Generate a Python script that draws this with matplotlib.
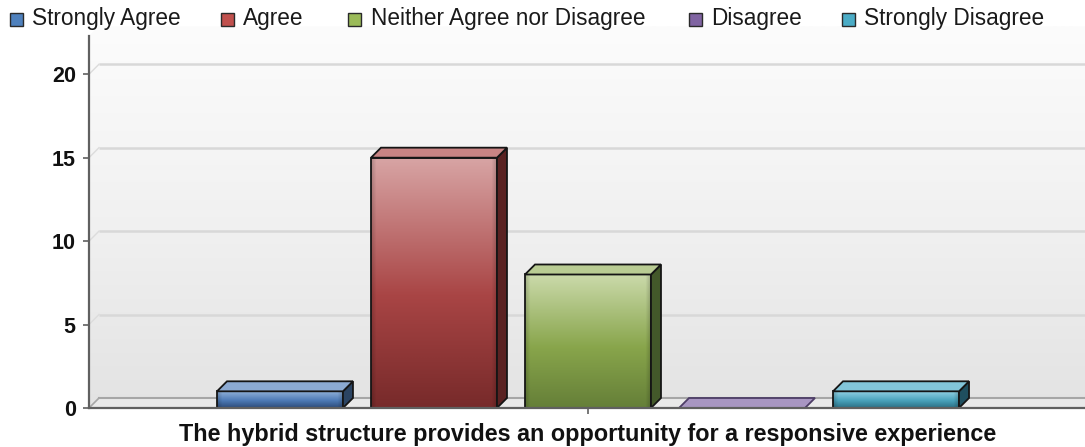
import numpy as np
import matplotlib
matplotlib.use("Agg")
import matplotlib.pyplot as plt
from matplotlib.patches import Polygon, Rectangle
from matplotlib.colors import to_rgb

# ---- data -------------------------------------------------------------
categories = ["The hybrid structure provides an opportunity for a responsive experience"]
series = ["Strongly Agree", "Agree", "Neither Agree nor Disagree", "Disagree", "Strongly Disagree"]
values = [1, 15, 8, 0, 1]
y_ticks = [0, 5, 10, 15, 20]

# ---- styling ----------------------------------------------------------
legend_colors = ["#4f81bd", "#c0504d", "#9bbb59", "#8064a2", "#4bacc6"]
# front gradient (top, middle, bottom), top face, side face, outline
bar_styles = [
    ("#92b2da", "#4e7bb6", "#2c4a78", "#8caad2", "#2b4463", "#151515"),
    ("#d8a5a5", "#a94545", "#772a2a", "#c98484", "#5a2222", "#151515"),
    ("#cbdaab", "#88a54b", "#657f38", "#b9cc93", "#43582a", "#151515"),
    ("#b8a8d0", "#8a72ad", "#5d4a7c", "#a896c2", "#4b3b62", "#4d3d66"),
    ("#93d2e4", "#4aa3bc", "#2a6f84", "#82c5d9", "#1f4f5f", "#151515"),
]

plt.rcParams["font.family"] = ["Liberation Sans", "DejaVu Sans"]

W, H, DPI = 1085, 447, 100
fig = plt.figure(figsize=(W / DPI, H / DPI), dpi=DPI)
fig.patch.set_facecolor("white")

# plot box (pixels): front axis at left/bottom, back wall reaches top/right
ax_l, ax_r, ax_t, ax_b = 89, 1097, 26, 408
ax = fig.add_axes([ax_l / W, (H - ax_b) / H, (ax_r - ax_l) / W, (ax_b - ax_t) / H])
ax.set_autoscale_on(False)
ax.patch.set_visible(False)

x0, x1 = -3.24, 3.305
y0, y1 = 0.0, 22.89
ax.set_xlim(x0, x1)
ax.set_ylim(y0, y1)

# depth of the 3D effect, converted from pixels to data units
depth_px = 10
dxd = depth_px * (x1 - x0) / (ax_r - ax_l)
dyd = depth_px * (y1 - y0) / (ax_b - ax_t)
y_front_top = y1 - dyd
bar_w = 0.818
slot = 1.0


def vgrad(colors, stops, n=256):
    """Vertical gradient image (top row first) through the given colours."""
    t = np.linspace(0, 1, n)
    cols = np.array([to_rgb(c) for c in colors])
    img = np.stack([np.interp(t, stops, cols[:, k]) for k in range(3)], axis=-1)
    return img[:, None, :]


# ---- back wall and left wall --------------------------------------------
wall_img = vgrad(["#fcfcfc", "#f1f1f1", "#e3e3e3"], [0, 0.5, 1])
wall = ax.imshow(wall_img, extent=[x0, x1, y0, y1], aspect="auto",
                 interpolation="bilinear", zorder=0)
wall_clip = Polygon([(x0, 0), (x0, y_front_top), (x0 + dxd, y1), (x1, y1), (x1, 0)],
                    closed=True, transform=ax.transData)
wall.set_clip_path(wall_clip)

# gridlines on the back wall, with their short diagonals on the left wall
for t in y_ticks[1:]:
    ax.plot([x0 + dxd, x1], [t + dyd, t + dyd], color="#d8d8d8", lw=1.8, zorder=1,
            solid_capstyle="butt")
    ax.plot([x0, x0 + dxd], [t, t + dyd], color="#dcdcdc", lw=1.0, zorder=1)

# floor
floor = Polygon([(x0, 0), (x1, 0), (x1, dyd), (x0 + dxd, dyd)], closed=True,
                facecolor="#e9e9e9", edgecolor="none", zorder=1)
ax.add_patch(floor)
ax.plot([x0 + dxd, x1], [dyd, dyd], color="#a6a6a6", lw=1.5, zorder=1.5)
ax.plot([x0, x0 + dxd], [0, dyd], color="#a6a6a6", lw=1.2, zorder=1.5)

# ---- bars -------------------------------------------------------------
n = len(series)
for i, (v, st) in enumerate(zip(values, bar_styles)):
    c_top, c_mid, c_bot, c_face, c_side, c_edge = st
    xc = 0 + (i - (n - 1) / 2) * slot
    xl, xr = xc - bar_w / 2, xc + bar_w / 2
    if v > 0:
        img = vgrad([c_top, c_mid, c_bot], [0, 0.55, 1])
        # slight darkening toward the left and right edges of the front face
        u = np.linspace(0, 1, 128)
        d = np.minimum(u, 1 - u)
        shade = 1 - 0.18 * np.clip(1 - d / 0.04, 0, 1)
        img2 = img * shade[None, :, None]
        ax.imshow(img2, extent=[xl, xr, 0, v], aspect="auto",
                  interpolation="bilinear", zorder=3)
        ax.add_patch(Rectangle((xl, 0), bar_w, v, fill=False, edgecolor=c_edge,
                               lw=1.3, zorder=4))
        ax.add_patch(Polygon([(xr, 0), (xr + dxd, dyd), (xr + dxd, v + dyd), (xr, v)],
                             closed=True, facecolor=c_side, edgecolor=c_edge,
                             lw=1.3, zorder=4))
    ax.add_patch(Polygon([(xl, v), (xr, v), (xr + dxd, v + dyd), (xl + dxd, v + dyd)],
                         closed=True, facecolor=c_face, edgecolor=c_edge,
                         lw=1.3, zorder=4))

# ---- axes -------------------------------------------------------------
axis_col = "#606060"
for s in ("top", "right"):
    ax.spines[s].set_visible(False)
ax.spines["left"].set_bounds(0, y_front_top)
for s in ("left", "bottom"):
    ax.spines[s].set_color(axis_col)
    ax.spines[s].set_linewidth(1.6)
    ax.spines[s].set_zorder(5)

ax.set_yticks(y_ticks)
ax.set_yticklabels([str(t) for t in y_ticks])
ax.set_xticks([0])
ax.set_xticklabels(categories)
ax.tick_params(axis="y", length=4.5, width=1.2, color=axis_col, pad=5,
               labelsize=15.5, labelcolor="#111111")
ax.tick_params(axis="x", length=4.5, width=1.2, color=axis_col, pad=6,
               labelsize=16.8, labelcolor="#111111")
for lab in ax.get_yticklabels() + ax.get_xticklabels():
    lab.set_fontweight("bold")

# ---- legend across the top ---------------------------------------------
sq_x = [10, 221, 348, 689, 842]
txt_x = [32, 243, 371, 711, 864]
sq = 13
leg_y = 19
for name, col, sx, tx in zip(series, legend_colors, sq_x, txt_x):
    fig.add_artist(Rectangle((sx / W, 1 - (leg_y + sq / 2) / H), sq / W, sq / H,
                             transform=fig.transFigure, facecolor=col,
                             edgecolor="#2a2a2a", lw=1.0))
    fig.text(tx / W, 1 - leg_y / H, name, ha="left", va="center",
             fontsize=16.3, color="#1a1a1a")

fig.savefig("out.png", dpi=DPI, facecolor="white")
